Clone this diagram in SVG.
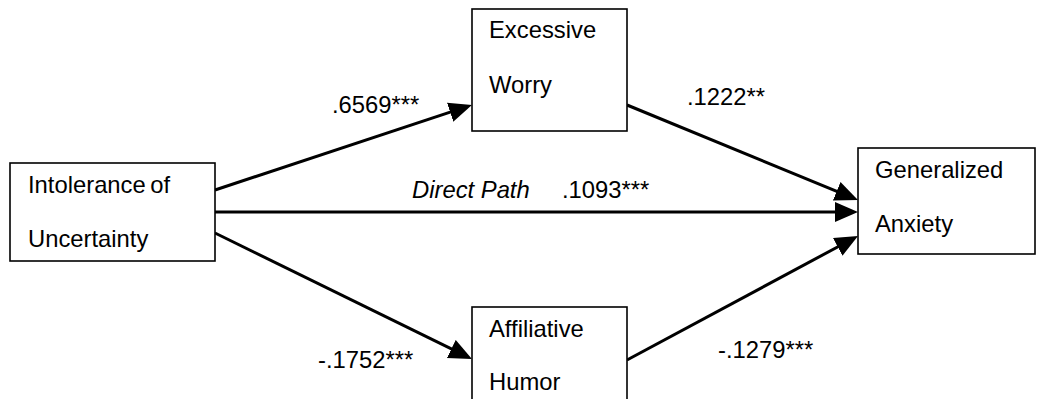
<svg xmlns="http://www.w3.org/2000/svg" width="1040" height="399" viewBox="0 0 1040 399">
<style>
.box{fill:#fff;stroke:#000;stroke-width:1.6}
.t{font-family:"Liberation Sans",Arial,sans-serif;font-size:23.8px;fill:#000}
.it{font-style:italic}
.c{stroke:#000;stroke-width:3;fill:none}
</style>
<defs>
<marker id="ah" markerUnits="userSpaceOnUse" markerWidth="26" markerHeight="22" refX="12" refY="10" orient="auto" viewBox="0 0 26 22">
<path d="M0,0 L23,10 L0,20 z" fill="#000"/>
</marker>
</defs>
<rect width="1040" height="399" fill="#fff"/>
<g id="connectors">
<line class="c" x1="215" y1="190" x2="461.5" y2="108.4" marker-end="url(#ah)"/>
<line class="c" x1="215" y1="212" x2="847" y2="212" marker-end="url(#ah)"/>
<line class="c" x1="215" y1="233" x2="462.1" y2="354.2" marker-end="url(#ah)"/>
<line class="c" x1="627" y1="105" x2="847.8" y2="195.8" marker-end="url(#ah)"/>
<line class="c" x1="627" y1="360" x2="848.3" y2="241.2" marker-end="url(#ah)"/>
<text class="t" x="332" y="113">.6569***</text>
<text class="t" x="318" y="368">-.1752***</text>
<text class="t it" x="412" y="198">Direct Path</text>
<text class="t" x="562" y="198">.1093***</text>
<text class="t" x="687" y="105">.1222**</text>
<text class="t" x="718" y="358">-.1279***</text>
</g>
<g id="iu">
<rect class="box" x="10" y="163" width="205" height="98"/>
<text class="t" x="28" y="193" word-spacing="-2">Intolerance of</text>
<text class="t" x="28" y="247">Uncertainty</text>
</g>
<g id="ew">
<rect class="box" x="472" y="9" width="155" height="122"/>
<text class="t" x="489" y="38">Excessive</text>
<text class="t" x="489" y="93">Worry</text>
</g>
<g id="ah2">
<rect class="box" x="472" y="307" width="155" height="110"/>
<text class="t" x="489" y="337">Affiliative</text>
<text class="t" x="489" y="390">Humor</text>
</g>
<g id="ga">
<rect class="box" x="858" y="148" width="177" height="106"/>
<text class="t" x="875" y="178">Generalized</text>
<text class="t" x="875" y="232">Anxiety</text>
</g>
</svg>
